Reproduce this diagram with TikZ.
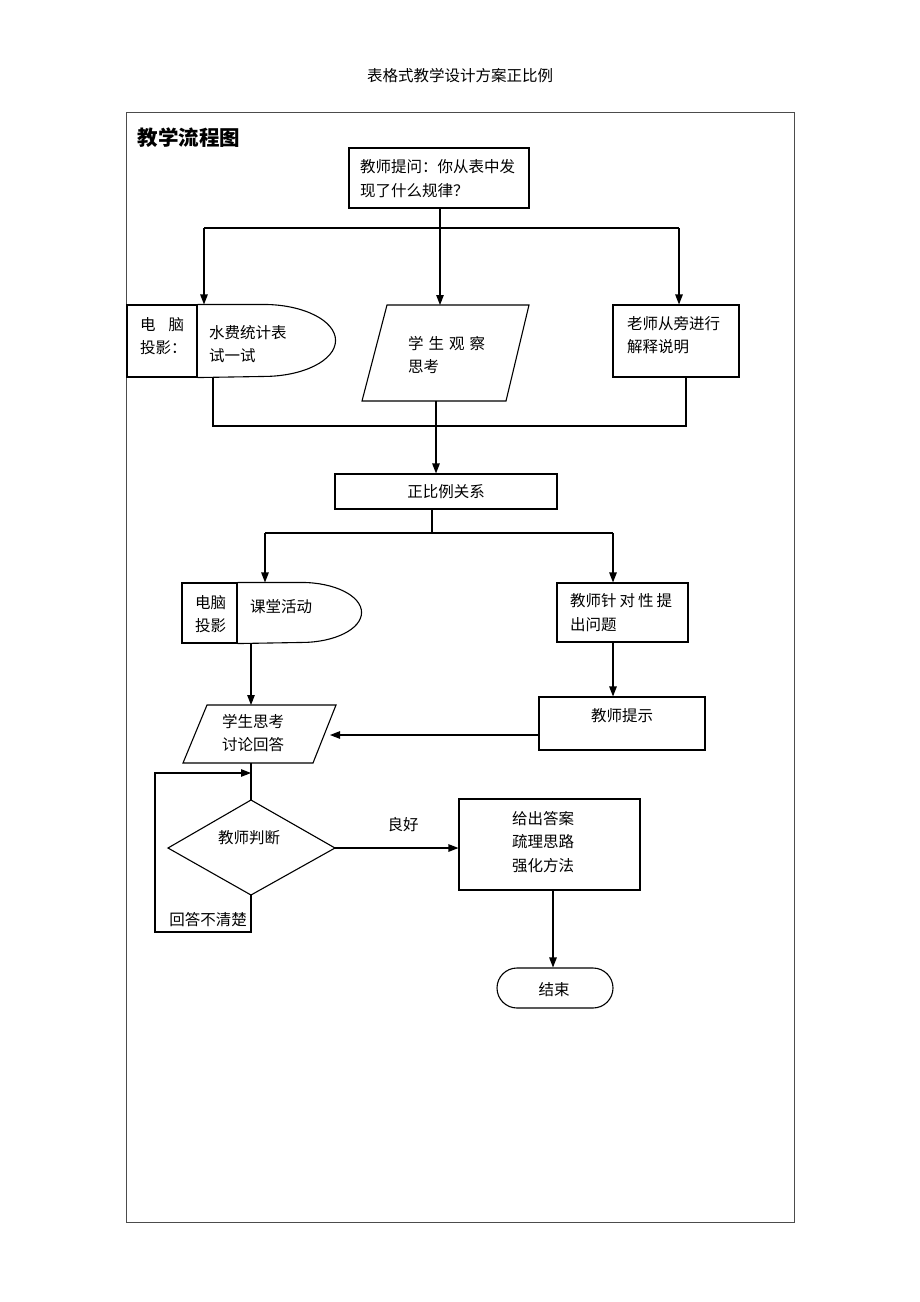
\documentclass[tikz,border=0pt]{standalone}
\usepackage{fontspec}
\setmainfont{Noto Sans CJK SC}
\usetikzlibrary{arrows.meta}
\begin{document}
\begin{tikzpicture}[x=1pt,y=-1pt,
  box/.style={draw, line width=1.1pt, inner sep=0pt},
  txt/.style={font=\fontsize{15.5}{23.5}\selectfont, inner sep=0pt, align=left},
  ctxt/.style={font=\fontsize{15.5}{23.5}\selectfont, inner sep=0pt, align=center},
  ln/.style={line width=1.1pt},
  arr/.style={line width=1.1pt, -{Triangle[length=10pt,width=7.5pt]}}]
\path[fill=white] (0,0) rectangle (920,1302);
\useasboundingbox (0,0) rectangle (920,1302);
% frame
\draw[gray!60!black, line width=1pt] (126,112) rectangle (794,1222);
\node[ctxt] (hdr) at (460,76) {表格式教学设计方案正比例};
\node[font=\bfseries\fontsize{20.5}{24}\selectfont, inner sep=0pt] (title) at (189,138) {教学流程图};
% box 1
\node[box, minimum width=180pt, minimum height=60pt] (b1) at (439,178) {};
\node[txt, anchor=west] (b1t) at (360,178.5) {教师提问：你从表中发\\现了什么规律？};
% left node 1
\node[box, minimum width=70pt, minimum height=72pt] (pcA) at (162,341) {};
\draw[ln] (pcA.north east) -- ++(66,0) arc[start angle=90, end angle=-90, x radius=72pt, y radius=36pt] -- (pcA.south east);
\node[txt, anchor=west] (pcAt) at (140,336) {电\hspace{13pt}脑\\投影：};
\node[txt, anchor=west] (pcB) at (209,344) {水费统计表\\试一试};
% parallelogram 1
\draw[ln] (387,305) -- (529,305) -- (506,401) -- (362,401) -- cycle;
\coordinate (pl1t) at (440,305);
\coordinate (pl1b) at (436,401);
\node[txt, anchor=west] (pl1) at (408,355) {学\hspace{5pt}生\hspace{5pt}观\hspace{5pt}察\\思考};
% right box 1
\node[box, minimum width=126pt, minimum height=72pt] (r1) at (676,341) {};
\node[txt, anchor=west] (r1t) at (627,335) {老师从旁进行\\解释说明};
% box 2
\node[box, minimum width=222pt, minimum height=35pt] (b2) at (446,491.5) {};
\node[ctxt] (b2t) at (446,492) {正比例关系};
% left node 2
\node[box, minimum width=55pt, minimum height=60pt] (pc2A) at (209.5,613) {};
\draw[ln] (pc2A.north east) -- ++(64,0) arc[start angle=90, end angle=-90, x radius=60pt, y radius=30pt] -- (pc2A.south east);
\node[txt, anchor=west] (pc2At) at (195,614) {电脑\\投影};
\node[txt, anchor=west] (pc2B) at (250,607) {课堂活动};
% right box 2
\node[box, minimum width=131pt, minimum height=59pt] (r2) at (622.5,612.5) {};
\node[txt, anchor=west] (r2t) at (570,612.5) {教师针\hspace{3pt}对\hspace{3pt}性\hspace{3pt}提\\出问题};
% parallelogram 2
\draw[ln] (207,705) -- (336,705) -- (313,763) -- (183,763) -- cycle;
\node[ctxt] (pl2) at (253,733) {学生思考\\讨论回答};
% box 3
\node[box, minimum width=166pt, minimum height=53pt] (b3) at (622,723.5) {};
\node[ctxt] (b3t) at (622,716) {教师提示};
% diamond
\coordinate (dt) at (251,800);
\coordinate (dr) at (335,848);
\coordinate (db) at (251,895);
\coordinate (dl) at (168,848);
\draw[ln] (dt) -- (dr) -- (db) -- (dl) -- cycle;
\node[ctxt] (dtx) at (249,838) {教师判断};
% box 4
\node[box, minimum width=181pt, minimum height=91pt] (b4) at (549.5,844.5) {};
\node[ctxt] (b4t) at (543,842) {给出答案\\疏理思路\\强化方法};
% end
\node[box, minimum width=116pt, minimum height=40pt, rounded corners=20pt] (end) at (555,988) {};
\node[ctxt] (endt) at (554,990) {结束};
% labels
\node[ctxt] (good) at (403,825) {良好};
\node[ctxt] (bad) at (208,920) {回答不清楚};
% connectors top
\coordinate (j1) at (440,228);
\coordinate (jl) at (204,228);
\coordinate (jr) at (679,228);
\draw[ln] (j1 |- b1.south) -- (j1);
\draw[ln] (jl) -- (jr);
\draw[arr] (jl) -- (jl |- pcA.north);
\draw[arr] (j1) -- (pl1t);
\draw[arr] (jr) -- (jr |- r1.north);
% merge
\coordinate (m1) at (213,426);
\coordinate (m2) at (686,426);
\coordinate (pcBot) at (213,377);
\draw[ln] (pcBot) -- (m1) -- (m2) -- (m2 |- r1.south);
\draw[arr] (pl1b) -- (pl1b |- b2.north);
% split 2
\coordinate (j2) at (432,533);
\coordinate (j2l) at (265,533);
\coordinate (j2r) at (613,533);
\draw[ln] (j2 |- b2.south) -- (j2);
\draw[ln] (j2l) -- (j2r);
\draw[arr] (j2l) -- (j2l |- pc2A.north);
\draw[arr] (j2r) -- (j2r |- r2.north);
% down arrows
\coordinate (pc2Bot) at (251,643);
\coordinate (pl2t) at (251,705);
\draw[arr] (pc2Bot) -- (pl2t);
\draw[arr] (j2r |- r2.south) -- (j2r |- b3.north);
\coordinate (b3l) at (539,735);
\coordinate (pl2r) at (330,735);
\draw[arr] (b3l) -- (pl2r);
\coordinate (pl2b) at (251,763);
\draw[ln] (pl2b) -- (dt);
% loop
\coordinate (lp1) at (251,932);
\coordinate (lp2) at (155,932);
\coordinate (lp3) at (155,773);
\coordinate (lp4) at (251,773);
\draw[arr] (db) -- (lp1) -- (lp2) -- (lp3) -- (lp4);
\draw[arr] (dr) -- (dr -| b4.west);
\coordinate (b4b) at (553,890);
\draw[arr] (b4b) -- (b4b |- end.north);
\end{tikzpicture}
\end{document}
